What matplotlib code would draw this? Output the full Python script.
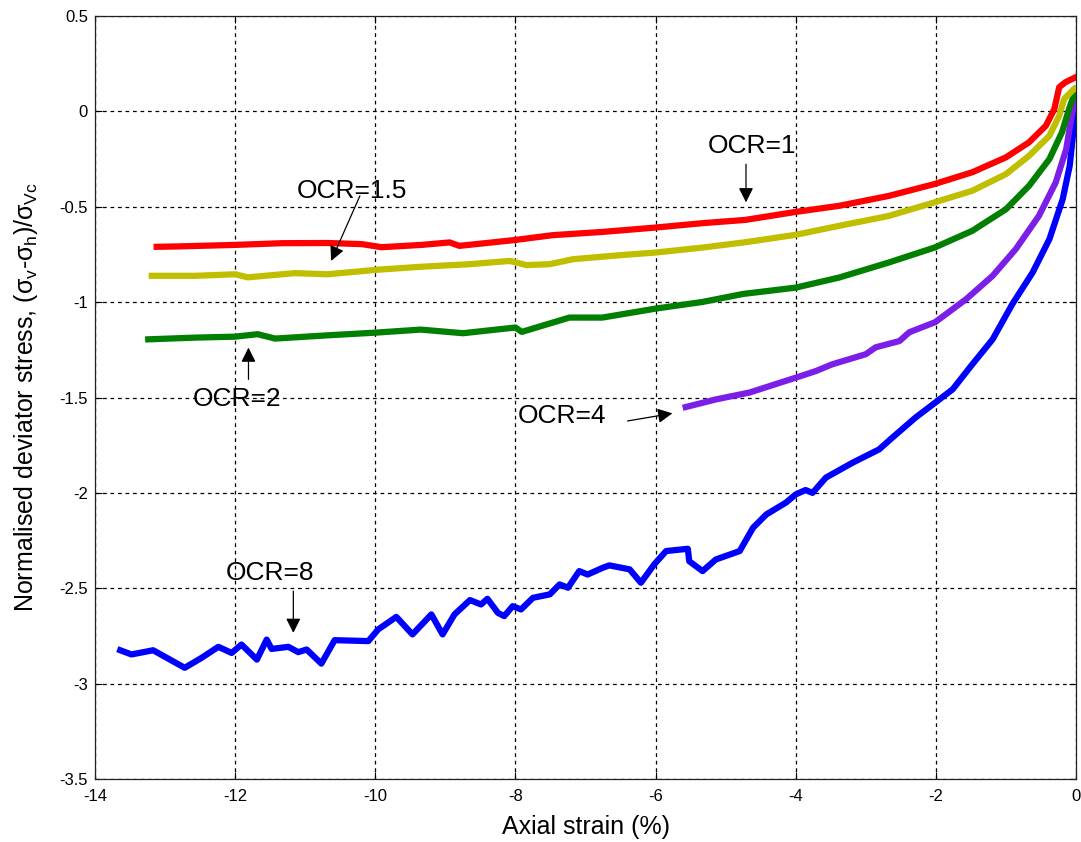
import matplotlib as mpl
mpl.use("Agg")
import matplotlib.pyplot as plt

plt.rcParams['font.family'] = ['Liberation Sans', 'DejaVu Sans']
plt.rcParams['mathtext.fontset'] = 'custom'
plt.rcParams['mathtext.rm'] = 'Liberation Sans'
plt.rcParams['mathtext.it'] = 'Liberation Sans'
plt.rcParams['axes.unicode_minus'] = False

# axial strain (%) and normalised deviator stress for each OCR test
red_x = [-13.12, -12.82, -12.0, -11.33, -10.68, -10.19, -9.91, -9.34, -8.94, -8.80, -8.41, -8.0,
         -7.47, -6.76, -6.0, -5.33, -4.72, -4.0, -3.38, -2.67, -2.02, -1.48, -1.0, -0.67,
         -0.43, -0.31, -0.24, -0.15, 0.0]
red_y = [-0.71, -0.708, -0.70, -0.691, -0.69, -0.696, -0.712, -0.70, -0.687, -0.705, -0.69, -0.674,
         -0.649, -0.632, -0.609, -0.586, -0.569, -0.527, -0.495, -0.443, -0.381, -0.319, -0.241, -0.162,
         -0.075, 0.012, 0.127, 0.153, 0.18]

yel_x = [-13.19, -12.57, -12.0, -11.82, -11.15, -10.68, -10.0, -9.37, -8.65, -8.08, -7.84, -7.51,
         -7.18, -6.51, -6.0, -5.33, -4.72, -4.0, -3.38, -2.67, -2.02, -1.48, -1.0, -0.67,
         -0.38, -0.24, -0.17, -0.03, 0.0]
yel_y = [-0.862, -0.862, -0.854, -0.87, -0.848, -0.854, -0.831, -0.815, -0.801, -0.784, -0.806, -0.801,
         -0.775, -0.754, -0.74, -0.714, -0.686, -0.647, -0.6, -0.548, -0.477, -0.416, -0.329, -0.233,
         -0.128, -0.023, 0.065, 0.117, 0.12]

grn_x = [-13.24, -12.57, -12.0, -11.68, -11.43, -10.68, -10.0, -9.35, -8.75, -8.0, -7.91, -7.23,
         -6.76, -6.0, -5.33, -4.75, -4.0, -3.38, -2.67, -2.02, -1.48, -1.0, -0.67, -0.38,
         -0.2, -0.1, 0.0]
grn_y = [-1.195, -1.186, -1.181, -1.168, -1.191, -1.174, -1.16, -1.144, -1.163, -1.133, -1.156, -1.081,
         -1.081, -1.034, -0.999, -0.957, -0.924, -0.871, -0.792, -0.714, -0.626, -0.513, -0.39, -0.25,
         -0.109, 0.012, 0.117]

pur_x = [-5.57, -5.14, -4.66, -4.0, -3.71, -3.48, -3.0, -2.86, -2.52, -2.38, -2.01, -1.57,
         -1.19, -0.86, -0.53, -0.29, -0.14, -0.07, 0.0]
pur_y = [-1.55, -1.51, -1.474, -1.396, -1.361, -1.326, -1.273, -1.237, -1.204, -1.158, -1.105, -0.985,
         -0.862, -0.722, -0.548, -0.373, -0.198, -0.04, 0.10]

blu_x = [-13.64, -13.48, -13.17, -12.72, -12.48, -12.24, -12.05, -11.91, -11.69, -11.55, -11.48, -11.24,
         -11.10, -10.98, -10.77, -10.58, -10.10, -9.96, -9.70, -9.47, -9.20, -9.04, -8.87, -8.65,
         -8.49, -8.40, -8.25, -8.16, -8.04, -7.92, -7.75, -7.51, -7.37, -7.25, -7.09, -6.97,
         -6.75, -6.66, -6.37, -6.21, -6.02, -5.85, -5.54, -5.52, -5.33, -5.14, -4.80, -4.61,
         -4.42, -4.14, -4.0, -3.86, -3.76, -3.57, -3.19, -2.81, -2.62, -2.29, -2.01, -1.76,
         -1.48, -1.19, -0.91, -0.62, -0.38, -0.19, -0.09, -0.03, 0.0]
blu_y = [-2.825, -2.847, -2.825, -2.917, -2.865, -2.807, -2.839, -2.795, -2.874, -2.769, -2.818, -2.807,
         -2.835, -2.821, -2.895, -2.772, -2.777, -2.716, -2.65, -2.742, -2.637, -2.742, -2.637, -2.562,
         -2.585, -2.555, -2.629, -2.646, -2.594, -2.611, -2.55, -2.532, -2.48, -2.497, -2.41, -2.428,
         -2.392, -2.38, -2.401, -2.471, -2.375, -2.305, -2.293, -2.358, -2.41, -2.349, -2.305, -2.183,
         -2.113, -2.051, -2.008, -1.985, -2.0, -1.92, -1.842, -1.772, -1.71, -1.605, -1.527, -1.457,
         -1.326, -1.195, -1.011, -0.845, -0.67, -0.46, -0.285, -0.076, 0.10]

xticks = [-14, -12, -10, -8, -6, -4, -2, 0]
xtick_labels = ['-14', '-12', '-10', '-8', '-6', '-4', '-2', '0']
yticks = [0.5, 0, -0.5, -1, -1.5, -2, -2.5, -3, -3.5]
ytick_labels = ['0.5', '0', '-0.5', '-1', '-1.5', '-2', '-2.5', '-3', '-3.5']

fig = plt.figure(figsize=(10.81, 8.42), dpi=100)
ax = fig.add_axes([0.0879, 0.0748, 0.9075, 0.9062])

lw = 4.5
ax.plot(blu_x, blu_y, color='#0000ff', lw=lw, solid_joinstyle='round', zorder=3)
ax.plot(pur_x, pur_y, color='#7b1fe8', lw=lw, solid_joinstyle='round', zorder=3)
ax.plot(grn_x, grn_y, color='#007f00', lw=lw, solid_joinstyle='round', zorder=3)
ax.plot(yel_x, yel_y, color='#bfbf00', lw=lw, solid_joinstyle='round', zorder=3)
ax.plot(red_x, red_y, color='#ff0000', lw=lw, solid_joinstyle='round', zorder=3)

ax.set_xlim(-14, 0)
ax.set_ylim(-3.5, 0.5)
ax.set_xticks(xticks)
ax.set_xticklabels(xtick_labels)
ax.set_yticks(yticks)
ax.set_yticklabels(ytick_labels)
ax.tick_params(direction='in', length=5, width=0.8, top=True, right=True, labelsize=12)
ax.tick_params(axis='x', pad=7)
ax.tick_params(axis='y', pad=5)
ax.grid(True, color='k', linestyle=(0, (3, 3)), linewidth=0.9)
for sp in ax.spines.values():
    sp.set_linewidth(0.9)
    sp.set_color('#222222')

ax.set_xlabel('Axial strain (%)', fontsize=18, labelpad=8)
ax.set_ylabel(r'Normalised deviator stress, ($\sigma_\mathrm{v}$-$\sigma_\mathrm{h}$)/$\sigma_\mathrm{Vc}$',
              fontsize=18)
ax.yaxis.set_label_coords(-0.056, 0.5)

# OCR labels with arrows
arr = dict(arrowstyle='-|>', color='k', lw=0.9, mutation_scale=22, shrinkA=0, shrinkB=0)
ax.text(-4.62, -0.18, 'OCR=1', fontsize=19, ha='center', va='center')
ax.annotate('', xy=(-4.71, -0.477), xytext=(-4.71, -0.277), arrowprops=arr)
ax.text(-10.33, -0.417, 'OCR=1.5', fontsize=19, ha='center', va='center')
ax.annotate('', xy=(-10.63, -0.784), xytext=(-10.22, -0.443), arrowprops=arr)
ax.text(-11.98, -1.509, 'OCR=2', fontsize=19, ha='center', va='center')
ax.annotate('', xy=(-11.81, -1.238), xytext=(-11.81, -1.405), arrowprops=arr)
ax.text(-7.33, -1.597, 'OCR=4', fontsize=19, ha='center', va='center')
ax.annotate('', xy=(-5.76, -1.583), xytext=(-6.40, -1.623), arrowprops=arr)
ax.text(-11.5, -2.419, 'OCR=8', fontsize=19, ha='center', va='center')
ax.annotate('', xy=(-11.17, -2.734), xytext=(-11.17, -2.515), arrowprops=arr)

fig.savefig('out.png', dpi=100)
